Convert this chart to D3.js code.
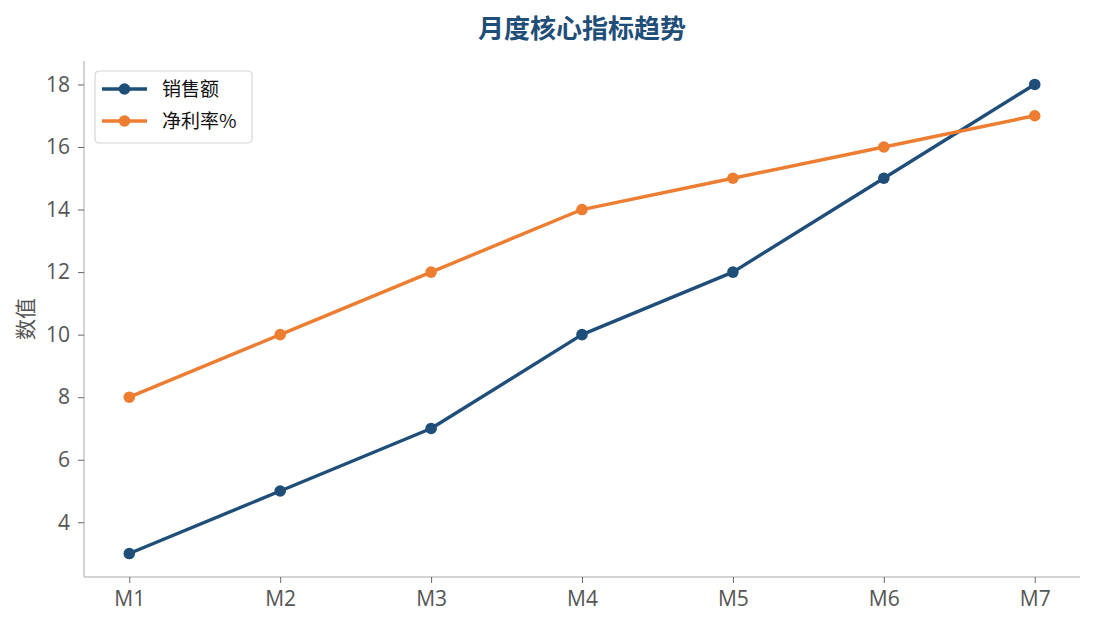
<!DOCTYPE html>
<html>
<head>
<meta charset="utf-8">
<script src="https://cdn.jsdelivr.net/npm/d3@7"></script>
<style>
  body { margin: 0; background: #fff; }
  svg text { font-family: "Open Sans", "Noto Sans CJK SC", sans-serif; }
</style>
</head>
<body>
<div id="chart"></div>
<script>
const months = ["M1", "M2", "M3", "M4", "M5", "M6", "M7"];
const sales = [3, 5, 7, 10, 12, 15, 18];
const netMargin = [8, 10, 12, 14, 15, 16, 17];
const yTicks = [4, 6, 8, 10, 12, 14, 16, 18];

const seriesList = [
    { name: "销售额", values: sales, color: "#1f4e79" },
    { name: "净利率%", values: netMargin, color: "#ed7d31" }
];

const width = 1095, height = 629;
const margin = { top: 61, right: 15, bottom: 52, left: 84 };
const innerW = width - margin.left - margin.right;
const innerH = height - margin.top - margin.bottom;

const svg = d3.select("#chart")
    .append("svg")
    .attr("width", width)
    .attr("height", height);

const g = svg.append("g")
    .attr("transform", "translate(" + margin.left + "," + margin.top + ")");

// x: point positions with matplotlib-like padding
const scaleX = d3.scaleLinear()
    .domain([-0.3, months.length - 1 + 0.3])
    .range([0, innerW]);

const scaleY = d3.scaleLinear()
    .domain([2.25, 18.75])
    .range([innerH, 0]);

// Axes
const xAxis = g.append("g")
    .attr("transform", "translate(0," + innerH + ")")
    .call(d3.axisBottom(scaleX)
        .tickValues(d3.range(months.length))
        .tickFormat(i => months[i])
        .tickSize(6)
        .tickPadding(8));

const yAxis = g.append("g")
    .call(d3.axisLeft(scaleY)
        .tickValues(yTicks)
        .tickSize(6)
        .tickPadding(8));

[xAxis, yAxis].forEach(ax => {
    ax.select(".domain").attr("stroke", "#c4c4c4").attr("stroke-width", 1.5);
    ax.selectAll(".tick line").attr("stroke", "#666").attr("stroke-width", 1);
    ax.selectAll(".tick text")
        .attr("fill", "#555")
        .style("font-size", "21px");
});
xAxis.select(".domain").attr("d", "M0,0H" + innerW);
yAxis.select(".domain").attr("d", "M0," + innerH + "V0");

// Lines and markers
seriesList.forEach(s => {
    const lineFunc = d3.line()
        .x((d, i) => scaleX(i))
        .y(d => scaleY(d));

    g.append("path")
        .attr("d", lineFunc(s.values))
        .attr("fill", "none")
        .attr("stroke", s.color)
        .attr("stroke-width", 3.4)
        .attr("stroke-linejoin", "round")
        .attr("stroke-linecap", "round");

    g.selectAll(null)
        .data(s.values)
        .enter()
        .append("circle")
        .attr("cx", (d, i) => scaleX(i))
        .attr("cy", d => scaleY(d))
        .attr("r", 5.8)
        .attr("fill", s.color);
});

// Title
svg.append("text")
    .attr("x", margin.left + innerW / 2)
    .attr("y", 38)
    .attr("text-anchor", "middle")
    .attr("fill", "#1f4e79")
    .style("font-family", "'Noto Sans CJK SC', sans-serif")
    .style("font-size", "26px")
    .style("font-weight", "bold")
    .text("月度核心指标趋势");

// Y label
svg.append("text")
    .attr("transform", "translate(33," + (margin.top + innerH / 2) + ") rotate(-90)")
    .attr("text-anchor", "middle")
    .attr("fill", "#555")
    .style("font-family", "'Noto Sans CJK SC', sans-serif")
    .style("font-size", "21px")
    .text("数值");

// Legend
const legend = svg.append("g").attr("transform", "translate(95,71)");
legend.append("rect")
    .attr("width", 157)
    .attr("height", 72)
    .attr("rx", 4)
    .attr("fill", "#fff")
    .attr("stroke", "#d6d6d6")
    .attr("stroke-width", 1.2);

seriesList.forEach((s, i) => {
    const row = legend.append("g").attr("transform", "translate(0," + (18 + i * 32) + ")");
    row.append("line")
        .attr("x1", 7).attr("x2", 52)
        .attr("stroke", s.color)
        .attr("stroke-width", 3.4);
    row.append("circle")
        .attr("cx", 29.5)
        .attr("r", 5.8)
        .attr("fill", s.color);
    row.append("text")
        .attr("x", 67)
        .attr("dy", "0.35em")
        .attr("fill", "#111")
        .style("font-family", "'Noto Sans CJK SC', sans-serif")
        .style("font-size", "19px")
        .text(s.name);
});
</script>
</body>
</html>
